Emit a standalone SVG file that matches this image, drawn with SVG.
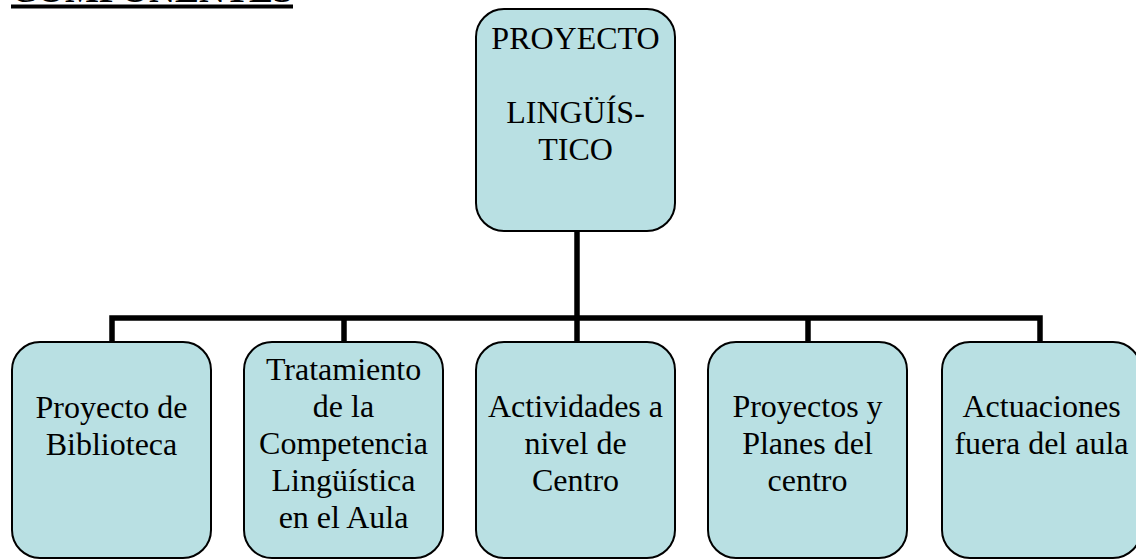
<svg xmlns="http://www.w3.org/2000/svg" width="1136" height="559" viewBox="0 0 1136 559">
<style>
.box{fill:#b9e0e3;stroke:#000;stroke-width:2}
.t{font-family:"Liberation Serif","Times New Roman",serif;font-size:32px;fill:#000;text-anchor:middle}
.c{fill:none;stroke:#000;stroke-width:5.5;stroke-linejoin:miter;stroke-linecap:butt}
</style>
<rect width="1136" height="559" fill="#fff"/>
<g id="title">
<text x="11" y="2" style="font-family:'Liberation Serif','Times New Roman',serif;font-size:35px;font-weight:bold" textLength="282" lengthAdjust="spacingAndGlyphs">COMPONENTES</text>
<rect x="11" y="4.5" width="282" height="4" fill="#000"/>
</g>
<g id="connectors">
<line class="c" x1="577" y1="231" x2="577" y2="342"/>
<polyline class="c" points="112,342 112,318 1040,318 1040,342"/>
<line class="c" x1="344" y1="318" x2="344" y2="342"/>
<line class="c" x1="808" y1="318" x2="808" y2="342"/>
</g>
<g id="root">
<rect class="box" x="476" y="9" width="199" height="222" rx="28" ry="28"/>
<text class="t" x="575.5" y="49">PROYECTO</text>
<text class="t" x="575.5" y="123">LINGÜÍS-</text>
<text class="t" x="575.5" y="160">TICO</text>
</g>
<g id="n1">
<rect class="box" x="12" y="342" width="199" height="216" rx="28" ry="28"/>
<text class="t" x="111.5" y="418">Proyecto de</text>
<text class="t" x="111.5" y="455">Biblioteca</text>
</g>
<g id="n2">
<rect class="box" x="244" y="342" width="199" height="216" rx="28" ry="28"/>
<text class="t" x="343.5" y="380">Tratamiento</text>
<text class="t" x="343.5" y="417">de la</text>
<text class="t" x="343.5" y="454">Competencia</text>
<text class="t" x="343.5" y="491">Lingüística</text>
<text class="t" x="343.5" y="528">en el Aula</text>
</g>
<g id="n3">
<rect class="box" x="476" y="342" width="199" height="216" rx="28" ry="28"/>
<text class="t" x="575.5" y="417">Actividades a</text>
<text class="t" x="575.5" y="454">nivel de</text>
<text class="t" x="575.5" y="491">Centro</text>
</g>
<g id="n4">
<rect class="box" x="708" y="342" width="199" height="216" rx="28" ry="28"/>
<text class="t" x="807.5" y="417">Proyectos y</text>
<text class="t" x="807.5" y="454">Planes del</text>
<text class="t" x="807.5" y="491">centro</text>
</g>
<g id="n5">
<rect class="box" x="942" y="342" width="199" height="216" rx="28" ry="28"/>
<text class="t" x="1041.5" y="417">Actuaciones</text>
<text class="t" x="1041.5" y="454">fuera del aula</text>
</g>
</svg>
